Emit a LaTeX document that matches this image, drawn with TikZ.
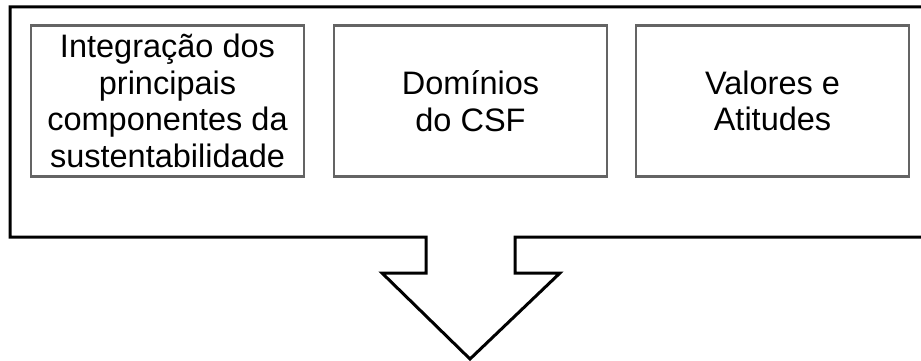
\documentclass[tikz,border=0pt]{standalone}
\usepackage{fontspec}
\setmainfont{Liberation Sans}
\definecolor{boxgrey}{RGB}{100,100,100}
\begin{document}
\begin{tikzpicture}[x=1pt,y=-1pt,
  itembox/.style={draw=boxgrey,line width=2.2pt,minimum width=273pt,minimum height=151pt,
    align=center,inner sep=0pt,font=\fontsize{32.5}{36.5}\selectfont},
  frame/.style={draw=black,line width=3pt,line join=miter}]
\useasboundingbox (0,0) rectangle (921,361);
\draw[frame] (10,7) -- (935,7) -- (935,237) -- (515,237) -- (515,273) -- (560,273)
  -- (470,359) -- (382,273) -- (426,273) -- (426,237) -- (10,237) -- cycle;
\node[itembox] (integ) at (167.5,101) {Integração dos\\principais\\componentes da\\sustentabilidade};
\node[itembox] (dom) at (470.5,101) {Domínios\\do CSF};
\node[itembox] (val) at (772.5,101) {Valores e\\Atitudes};
\end{tikzpicture}
\end{document}
